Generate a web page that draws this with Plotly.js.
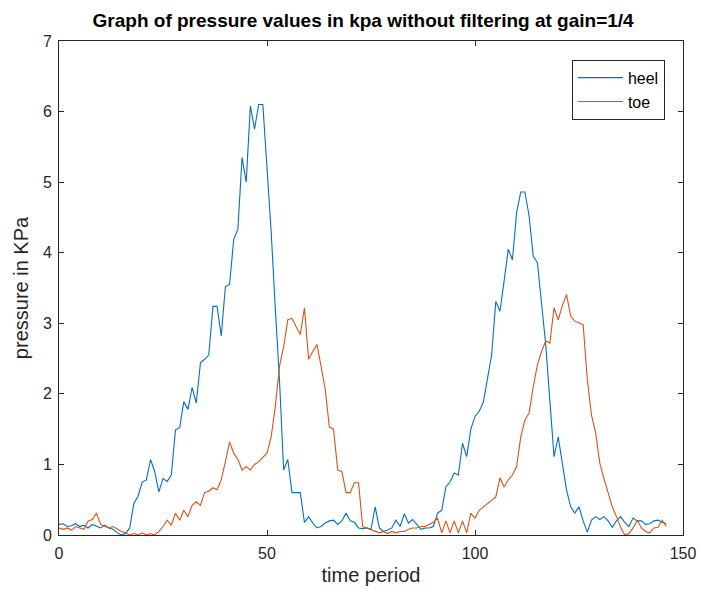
<!DOCTYPE html>
<html>
<head>
<meta charset="utf-8">
<script src="https://cdn.plot.ly/plotly-3.0.1.min.js"></script>
<style>html,body{margin:0;padding:0;background:#fff;}#chart{width:701px;height:597px;}</style>
</head>
<body>
<div id="chart"></div>
<script>
const timePeriod = Array.from({length: 147}, (_, i) => i);

const heel = [
  0.15, 0.16, 0.12, 0.13, 0.16, 0.12, 0.14, 0.10, 0.15, 0.12,
  0.10, 0.14, 0.10, 0.08, 0.03, 0.00, 0.02, 0.10, 0.45, 0.55,
  0.75, 0.78, 1.07, 0.90, 0.61, 0.80, 0.76, 0.85, 1.49, 1.52,
  1.89, 1.78, 2.09, 1.87, 2.44, 2.49, 2.55, 3.24, 3.24, 2.82,
  3.52, 3.55, 4.19, 4.33, 5.35, 5.00, 6.08, 5.75, 6.10, 6.10,
  5.23, 4.30, 3.20, 2.20, 0.92, 1.07, 0.60, 0.60, 0.60, 0.18,
  0.26, 0.17, 0.10, 0.12, 0.17, 0.20, 0.21, 0.15, 0.20, 0.31,
  0.20, 0.18, 0.10, 0.09, 0.10, 0.08, 0.40, 0.10, 0.05, 0.07,
  0.10, 0.21, 0.12, 0.30, 0.17, 0.22, 0.15, 0.08, 0.10, 0.10,
  0.12, 0.31, 0.35, 0.68, 0.75, 0.88, 0.85, 1.30, 1.11, 1.50,
  1.68, 1.75, 1.88, 2.20, 2.55, 3.31, 3.17, 3.60, 4.05, 3.90,
  4.57, 4.86, 4.86, 4.52, 3.95, 3.86, 3.30, 2.70, 1.90, 1.11,
  1.39, 1.00, 0.64, 0.40, 0.31, 0.40, 0.20, 0.04, 0.21, 0.26,
  0.22, 0.26, 0.20, 0.11, 0.20, 0.26, 0.18, 0.12, 0.24, 0.20,
  0.20, 0.15, 0.16, 0.20, 0.21, 0.18, 0.16
];

const toe = [
  0.10, 0.08, 0.10, 0.07, 0.12, 0.10, 0.08, 0.20, 0.22, 0.31,
  0.15, 0.12, 0.10, 0.12, 0.08, 0.05, 0.03, 0.00, 0.02, 0.00,
  0.03, 0.00, 0.02, 0.00, 0.05, 0.12, 0.21, 0.14, 0.31, 0.21,
  0.35, 0.26, 0.42, 0.47, 0.42, 0.60, 0.62, 0.67, 0.64, 0.78,
  1.04, 1.32, 1.16, 1.07, 0.92, 0.97, 0.92, 1.00, 1.04, 1.10,
  1.16, 1.39, 1.82, 2.39, 2.67, 3.05, 3.07, 2.95, 2.84, 3.22,
  2.49, 2.60, 2.70, 2.39, 2.06, 1.53, 1.50, 0.92, 0.90, 0.60,
  0.60, 0.74, 0.74, 0.12, 0.10, 0.07, 0.05, 0.03, 0.05, 0.02,
  0.05, 0.03, 0.05, 0.05, 0.08, 0.10, 0.10, 0.12, 0.12, 0.15,
  0.18, 0.24, 0.03, 0.20, 0.03, 0.20, 0.03, 0.20, 0.03, 0.31,
  0.24, 0.35, 0.40, 0.45, 0.50, 0.54, 0.81, 0.68, 0.78, 0.85,
  0.97, 1.39, 1.63, 1.73, 2.10, 2.41, 2.60, 2.75, 2.72, 3.22,
  3.05, 3.25, 3.41, 3.10, 3.03, 3.00, 2.98, 2.20, 1.70, 1.45,
  1.02, 0.80, 0.60, 0.40, 0.26, 0.11, 0.00, 0.02, 0.10, 0.21,
  0.10, 0.05, 0.03, 0.10, 0.11, 0.21, 0.12
];

const seriesNames = ['heel', 'toe'];
const xTicks = [0, 50, 100, 150];
const yTicks = [0, 1, 2, 3, 4, 5, 6, 7];

const font = 'Liberation Sans, Arial, Helvetica, sans-serif';

const traces = [
  {x: timePeriod, y: heel, name: seriesNames[0], type: 'scatter', mode: 'lines',
   line: {color: '#0072BD', width: 1.1}},
  {x: timePeriod, y: toe, name: seriesNames[1], type: 'scatter', mode: 'lines',
   line: {color: '#D95319', width: 1.1}}
];

const axisCommon = {
  showline: true, linecolor: '#262626', linewidth: 1, mirror: 'ticks',
  ticks: 'inside', ticklen: 5, tickcolor: '#262626', showgrid: false, zeroline: false,
  tickfont: {family: font, size: 16, color: '#262626'}
};

const layout = {
  width: 701, height: 597,
  margin: {l: 59, r: 18, t: 41, b: 62},
  paper_bgcolor: '#ffffff', plot_bgcolor: '#ffffff',
  showlegend: true,
  title: {text: '<b>Graph of pressure values in kpa without filtering at gain=1/4</b>',
          font: {family: font, size: 19, color: '#000000'}, x: 0.518, xanchor: 'center', y: 0.966, yanchor: 'middle'},
  xaxis: Object.assign({}, axisCommon, {
    range: [0, 150], tickvals: xTicks, ticktext: xTicks.map(String),
    ticklabelstandoff: 4,
    title: {text: 'time period', font: {family: font, size: 20, color: '#262626'}, standoff: 6}
  }),
  yaxis: Object.assign({}, axisCommon, {
    range: [0, 7], tickvals: yTicks, ticktext: yTicks.map(String),
    ticklabelstandoff: 3,
    title: {text: 'pressure in KPa', font: {family: font, size: 20, color: '#262626'}, standoff: 8}
  }),
  legend: {
    x: 0.971, xanchor: 'right', y: 0.962, yanchor: 'top',
    bgcolor: '#ffffff', bordercolor: '#262626', borderwidth: 1,
    font: {family: font, size: 16, color: '#000000'},
    itemwidth: 45,
    tracegroupgap: 0
  }
};

Plotly.newPlot('chart', traces, layout, {displayModeBar: false, staticPlot: true});
</script>
</body>
</html>
